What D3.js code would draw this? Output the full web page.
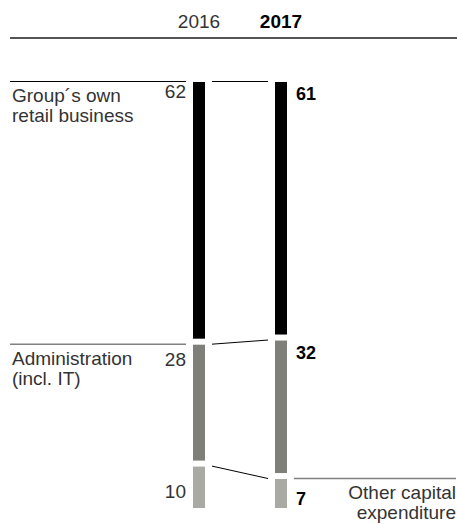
<!DOCTYPE html>
<html>
<head>
  <meta charset="utf-8">
  <title>Capital expenditure</title>
  <script src="https://d3js.org/d3.v7.min.js"></script>
  <style>
    body { margin: 0; background: #fff; }
    text { font-family: "Liberation Sans", Arial, sans-serif; }
  </style>
</head>
<body>

  <svg></svg>

  <script>

    // Data
    var years = ["2016", "2017"];
    var categories = [
      ["Group´s own", "retail business"],
      ["Administration", "(incl. IT)"],
      ["Other capital", "expenditure"]
    ];
    var values2016 = [62, 28, 10];
    var values2017 = [61, 32, 7];
    var colors = ["#000000", "#7f7f79", "#a9aaa3"];

    // Canvas
    var width = 457, height = 524;
    var top0 = 82, gap = 6, bottom = 508;

    var svg = d3.select("svg")
        .attr("width", width)
        .attr("height", height);

    // Scales
    var x = d3.scalePoint().domain(years).range([199, 281]);
    var y = d3.scaleLinear().domain([0, 100]).range([0, bottom - top0 - 2 * gap]);
    var barW = 12;

    // stacked segments for each year
    function stack(vals) {
      var acc = 0;
      return vals.map(function(v, i) {
        var s = { value: v, i: i, y0: top0 + y(acc) + gap * i };
        acc += v;
        s.y1 = top0 + y(acc) + gap * i;
        return s;
      });
    }
    var segs = { "2016": stack(values2016), "2017": stack(values2017) };

    // Header
    svg.append("text")
        .attr("x", x("2016")).attr("y", 28)
        .attr("text-anchor", "middle")
        .style("font-size", "19px").style("fill", "#333")
        .text(years[0]);
    svg.append("text")
        .attr("x", x("2017")).attr("y", 28)
        .attr("text-anchor", "middle")
        .style("font-size", "19px").style("font-weight", "bold").style("fill", "#000")
        .text(years[1]);
    svg.append("line")
        .attr("x1", 10).attr("x2", 457)
        .attr("y1", 38).attr("y2", 38)
        .attr("stroke", "#555").attr("stroke-width", 2);

    // Bars
    years.forEach(function(yr) {
      svg.selectAll(null)
          .data(segs[yr])
        .enter().append("rect")
          .attr("x", x(yr) - barW / 2)
          .attr("y", function(d) { return d.y0; })
          .attr("width", barW)
          .attr("height", function(d) { return d.y1 - d.y0; })
          .attr("fill", function(d) { return colors[d.i]; });
    });

    // Connectors between segment tops
    svg.selectAll(null)
        .data(d3.range(categories.length))
      .enter().append("line")
        .attr("x1", x("2016") + barW / 2 + 7)
        .attr("x2", x("2017") - barW / 2 - 7)
        .attr("y1", function(i) { return segs["2016"][i].y0 - 0.5; })
        .attr("y2", function(i) { return segs["2017"][i].y0 - 0.5; })
        .attr("stroke", "#000").attr("stroke-width", 1);

    // Category labels with rules
    var ruleColors = ["#000", "#808080", "#808080"];
    categories.forEach(function(lines, i) {
      var left = i < 2;
      var s = left ? segs["2016"][i] : segs["2017"][i];
      svg.append("line")
          .attr("x1", left ? 10 : 294)
          .attr("x2", left ? 186 : 456)
          .attr("y1", s.y0 - 0.5).attr("y2", s.y0 - 0.5)
          .attr("stroke", ruleColors[i])
          .attr("stroke-width", i === 0 ? 1 : 1.5);
      var t = svg.append("text")
          .attr("x", left ? 13 : 456)
          .attr("y", s.y0 + 20)
          .attr("text-anchor", left ? "start" : "end")
          .style("font-size", "19px").style("fill", "#333");
      lines.forEach(function(l, k) {
        t.append("tspan")
            .attr("x", left ? 12 : 456)
            .attr("dy", k === 0 ? 0 : 20)
            .text(l);
      });
    });

    // Value labels
    var dy2016 = [16, 21, 31], dy2017 = [18, 18, 26];
    svg.selectAll(null)
        .data(segs["2016"])
      .enter().append("text")
        .attr("x", x("2016") - barW / 2 - 7)
        .attr("y", function(d) { return d.y0 + dy2016[d.i]; })
        .attr("text-anchor", "end")
        .style("font-size", "19px").style("fill", "#333")
        .text(function(d) { return d.value; });
    svg.selectAll(null)
        .data(segs["2017"])
      .enter().append("text")
        .attr("x", x("2017") + barW / 2 + 9)
        .attr("y", function(d) { return d.y0 + dy2017[d.i]; })
        .style("font-size", "18px").style("font-weight", "bold").style("fill", "#000")
        .text(function(d) { return d.value; });

  </script>

</body>
</html>
